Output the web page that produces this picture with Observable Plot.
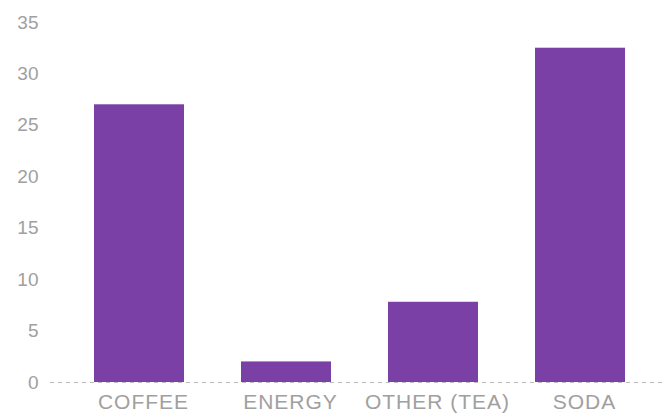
<!DOCTYPE html>
<html>
<head>
<meta charset="utf-8">
<script src="https://cdn.jsdelivr.net/npm/d3@7"></script>
<script src="https://cdn.jsdelivr.net/npm/@observablehq/plot@0.6"></script>
<style>
  html, body { margin: 0; padding: 0; background: #ffffff; }
  #chart svg { display: block; }
  #chart g[aria-label="x-axis tick label"] text { letter-spacing: 1px; }
</style>
</head>
<body>
<div id="chart"></div>
<script>
const categories = ["COFFEE", "ENERGY", "OTHER (TEA)", "SODA"];
const values = [27, 2, 7.8, 32.5];
const yTicks = [0, 5, 10, 15, 20, 25, 30, 35];

const data = categories.map((c, i) => ({category: c, value: values[i]}));

const chart = Plot.plot({
  width: 664,
  height: 419,
  marginLeft: 66,
  marginRight: 11,
  marginTop: 22,
  marginBottom: 37,
  style: {fontFamily: "Liberation Sans, Arial, sans-serif", background: "#ffffff"},
  x: {domain: categories, paddingInner: 0.39, paddingOuter: 0.19, label: null},
  y: {domain: [0, 35], ticks: yTicks, label: null},
  marks: [
    Plot.barY(data, {x: "category", y: "value", fill: "#7b40a6"}),
    Plot.ruleY([0], {stroke: "#bbbbbb", strokeDasharray: "4,4", insetLeft: -16, insetRight: -11}),
    Plot.axisY({ticks: yTicks, tickSize: 0, tickPadding: 28, fontSize: 19, color: "#a0a0a0", label: null}),
    Plot.axisX({tickSize: 0, tickPadding: 12, fontSize: 21, color: "#a0a0a0", label: null, dx: 4})
  ]
});
document.getElementById("chart").appendChild(chart);
</script>
</body>
</html>
